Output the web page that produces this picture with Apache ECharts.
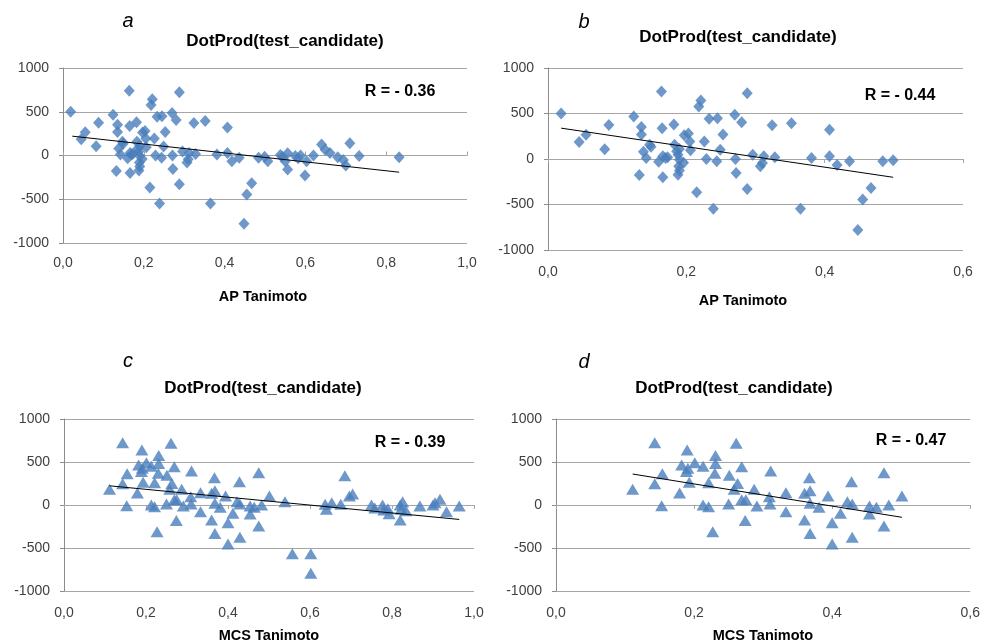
<!DOCTYPE html>
<html>
<head>
<meta charset="utf-8">
<script src="https://cdn.jsdelivr.net/npm/echarts@6/dist/echarts.min.js"></script>
<style>
html,body{margin:0;padding:0;background:#fff;}
#chart{width:983px;height:644px;}
</style>
</head>
<body>
<div id="chart"></div>
<script>
// ---- Data ----
// AP Tanimoto points present in both panel a and panel b (x <= 0.5)
const apShared = [
  [0.019,500],[0.045,186],[0.055,266],[0.082,106],[0.088,375],[0.124,467],
  [0.135,352],[0.135,268],[0.132,-176],[0.138,80],[0.142,11],[0.147,157],
  [0.149,135],[0.160,-30],[0.164,741],[0.165,338],[0.166,-200],[0.166,30],
  [0.170,11],[0.173,20],[0.182,380],[0.183,157],[0.186,84],[0.188,47],
  [0.190,110],[0.190,-7],[0.189,-81],[0.190,-125],[0.188,-172],[0.196,-40],
  [0.197,262],[0.203,280],[0.205,193],[0.206,95],[0.215,-365],[0.218,577],
  [0.221,642],[0.226,193],[0.229,0],[0.233,442],[0.239,-548],[0.245,449],
  [0.244,-26],[0.249,102],[0.253,268],[0.270,485],[0.271,0],[0.272,-153],
  [0.280,405],[0.288,723],[0.288,-329],[0.296,47],[0.307,-80],[0.310,-44],
  [0.312,29],[0.324,372],[0.328,18],[0.352,394],[0.365,-548],[0.381,11],
  [0.407,321],[0.407,29],[0.418,-66],[0.436,-26],[0.448,-781],[0.455,-445],
  [0.467,-318],[0.484,-26],[0.499,-15]
];
// AP Tanimoto points only in panel a (x > 0.5)
const apHigh = [
  [0.507,-65],[0.538,5],[0.543,-15],[0.550,-65],[0.556,25],[0.556,-160],
  [0.575,-5],[0.582,-30],[0.588,0],[0.599,-228],[0.603,-65],[0.620,0],
  [0.640,126],[0.649,65],[0.661,30],[0.680,-20],[0.694,-50],[0.700,-115],
  [0.710,141],[0.733,-5],[0.832,-20]
];
// MCS Tanimoto points present in both panel c and panel d
const mcsShared = [
  [0.111,182],[0.143,725],[0.143,248],[0.154,364],[0.153,-8],[0.179,140],
  [0.182,465],[0.190,640],[0.189,390],[0.191,426],[0.193,265],[0.201,492],
  [0.213,450],[0.213,0],[0.221,-19],[0.221,260],[0.227,-310],[0.231,575],
  [0.231,484],[0.230,368],[0.251,345],[0.250,12],[0.261,717],[0.258,182],
  [0.263,250],[0.269,446],[0.269,62],[0.275,62],[0.274,-180],[0.287,182],
  [0.291,-12],[0.311,395],[0.309,97],[0.310,12],[0.333,143],[0.333,-78],
  [0.360,136],[0.360,-174],[0.367,318],[0.368,167],[0.368,-330],[0.368,19],
  [0.381,-27],[0.394,105],[0.400,-205],[0.400,-453],[0.412,-97],[0.422,39],
  [0.428,271],[0.429,12],[0.429,-376],[0.454,-12],[0.454,-105],[0.464,-27],
  [0.475,376],[0.475,-244],[0.482,0],[0.501,105]
];
// MCS Tanimoto points only in panel c
const mcsHigh = [
  [0.539,39],[0.557,-566],[0.602,-566],[0.602,-793],[0.637,8],[0.640,-50],
  [0.653,27],[0.675,8],[0.685,339],[0.696,105],[0.704,129],[0.750,0],
  [0.758,-35],[0.777,0],[0.780,-58],[0.790,-43],[0.793,-101],[0.820,0],
  [0.822,-50],[0.826,39],[0.820,-175],[0.834,-66],[0.868,-12],[0.900,0],
  [0.905,27],[0.917,66],[0.933,-78],[0.964,-12]
];
// Linear trend line end points
const trendA = [[0.023,221],[0.832,-191]];
const trendB = [[0.019,339],[0.499,-201]];
const trendC = [[0.111,223],[0.964,-168]];
const trendD = [[0.111,360],[0.501,-143]];
// Texts
const panelLetters = ['a','b','c','d'];
const chartTitle = 'DotProd(test_candidate)';
const rLabels = ['R = - 0.36','R = - 0.44','R = - 0.39','R = - 0.47'];
const xNames = ['AP Tanimoto','AP Tanimoto','MCS Tanimoto','MCS Tanimoto'];
const xMaxes = [1.0, 0.6, 1.0, 0.6];

// ---- Layout ----
const grids = [
  {left:63, top:68, width:404, height:175},
  {left:548, top:68, width:415, height:182},
  {left:64, top:419, width:410, height:172},
  {left:556, top:419, width:415, height:172}
];
const labelMargins = [13, 15, 15, 15];
const zeroTickInside = [true, false, false, false];
const titlePos = [[285,41],[738,37],[263,388],[734,388]];
const letterPos = [[128,21],[584,22],[128,361],[584,362]];
const rPos = [[400,92],[900,96],[410,443],[911,441]];
const namePos = [[263,297],[743,301],[269,636],[763,636]];

const FONT = '"Liberation Sans", Arial, sans-serif';
const gridColor = '#a6a6a6';
const markerColor = '#4a7ebb';
const fmtX = v => v.toFixed(1).replace('.', ',');
const fmtY = v => String(v);

const xAxes = [], yAxes = [], series = [], graphics = [];
const panelData = [
  apShared.concat(apHigh), apShared, mcsShared.concat(mcsHigh), mcsShared
];
const trends = [trendA, trendB, trendC, trendD];
const symbols = ['diamond','diamond','triangle','triangle'];
const symSizes = [[11,12],[11,12],[13,11],[13,11]];

for (let i = 0; i < 4; i++) {
  xAxes.push({
    type:'value', gridIndex:i, min:0, max:xMaxes[i], interval:0.2,
    position:'bottom',
    axisLine:{show:false, onZero:false},
    axisTick:{show:false},
    splitLine:{show:false},
    axisLabel:{formatter:fmtX, fontSize:14, color:'#404040', fontFamily:FONT, margin:labelMargins[i]}
  });
  xAxes.push({
    type:'value', gridIndex:i, min:0, max:xMaxes[i], interval:0.2,
    position:'bottom',
    axisLine:{show:true, onZero:true, lineStyle:{color:gridColor, width:1}},
    axisTick:{show:true, inside:zeroTickInside[i], length:4, lineStyle:{color:gridColor}},
    axisLabel:{show:false},
    splitLine:{show:false}
  });
  yAxes.push({
    type:'value', gridIndex:i, min:-1000, max:1000, interval:500,
    axisLine:{show:true, onZero:false, lineStyle:{color:'#8c8c8c', width:1}},
    axisTick:{show:true, length:4, lineStyle:{color:'#8c8c8c'}},
    splitLine:{show:true, lineStyle:{color:gridColor, width:1}},
    axisLabel:{formatter:fmtY, fontSize:14, color:'#404040', fontFamily:FONT, margin:14}
  });
  series.push({
    type:'scatter', xAxisIndex:2*i, yAxisIndex:i,
    symbol:symbols[i], symbolSize:symSizes[i],
    itemStyle:{color:markerColor},
    data:panelData[i], z:2
  });
  series.push({
    type:'line', xAxisIndex:2*i, yAxisIndex:i,
    symbol:'none', silent:true,
    lineStyle:{color:'#000', width:1},
    data:trends[i], z:3
  });
  graphics.push({type:'text', x:titlePos[i][0], y:titlePos[i][1],
    style:{text:chartTitle, font:'bold 17px '+FONT, fill:'#000', textAlign:'center', textVerticalAlign:'middle'}});
  graphics.push({type:'text', x:letterPos[i][0], y:letterPos[i][1],
    style:{text:panelLetters[i], font:'italic 20px '+FONT, fill:'#000', textAlign:'center', textVerticalAlign:'middle'}});
  graphics.push({type:'text', x:rPos[i][0], y:rPos[i][1], z:10,
    style:{text:rLabels[i], font:'bold 16px '+FONT, fill:'#000', textAlign:'center', textVerticalAlign:'middle'}});
  graphics.push({type:'text', x:namePos[i][0], y:namePos[i][1],
    style:{text:xNames[i], font:'bold 14.5px '+FONT, fill:'#000', textAlign:'center', textVerticalAlign:'middle'}});
}

const chart = echarts.init(document.getElementById('chart'), null, {renderer:'canvas'});
chart.setOption({
  animation:false,
  backgroundColor:'#fff',
  grid:grids,
  xAxis:xAxes,
  yAxis:yAxes,
  series:series,
  graphic:graphics
});
</script>
</body>
</html>
